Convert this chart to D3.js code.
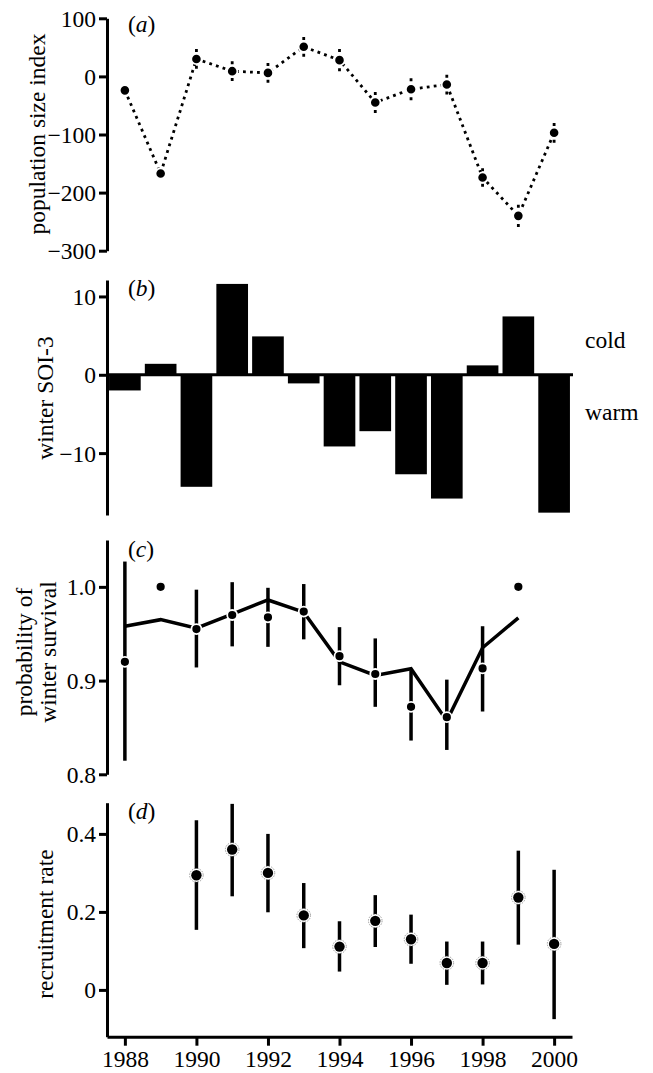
<!DOCTYPE html>
<html>
<head>
<meta charset="utf-8">
<script src="https://cdn.jsdelivr.net/npm/d3@7"></script>
<style>
  html, body { margin: 0; padding: 0; background: #fff; }
  svg text { font-family: "Liberation Serif", "Times New Roman", serif; fill: #000; }
</style>
</head>
<body>
<svg id="chart" width="653" height="1073"></svg>
<script>
// ---------- data ----------
const years = [1988, 1989, 1990, 1991, 1992, 1993, 1994, 1995, 1996, 1997, 1998, 1999, 2000];
const popIndex = [-24, -167, 30, 9, 6, 51, 28, -45, -22, -14, -174, -240, -97];
const popErr   = [8, 8, 17, 17, 17, 17, 19, 18, 19, 17, 16, 19, 17];

const soi = [-2.0, 1.4, -14.3, 11.6, 4.9, -1.1, -9.15, -7.2, -12.7, -15.8, 1.2, 7.45, -17.6];

const survYears = [1988, 1989, 1990, 1991, 1992, 1993, 1994, 1995, 1996, 1997, 1998, 1999];
const survObs   = [0.920, 1.000, 0.955, 0.970, 0.9675, 0.9736, 0.926, 0.907, 0.872, 0.861, 0.913, 1.000];
const survLo    = [0.8145, null, 0.914, 0.9365, 0.936, 0.944, 0.895, 0.872, 0.836, 0.826, 0.867, null];
const survHi    = [1.027, null, 0.997, 1.005, 0.999, 1.003, 0.957, 0.945, 0.911, 0.901, 0.958, null];
const survModel = [0.958, 0.965, 0.956, 0.971, 0.986, 0.973, 0.920, 0.9055, 0.9126, 0.857, 0.935, 0.967];

const recYears = [1990, 1991, 1992, 1993, 1994, 1995, 1996, 1997, 1998, 1999, 2000];
const rec   = [0.294, 0.360, 0.300, 0.191, 0.111, 0.177, 0.130, 0.069, 0.069, 0.237, 0.118];
const recLo = [0.154, 0.240, 0.199, 0.107, 0.047, 0.110, 0.067, 0.013, 0.014, 0.116, -0.075];
const recHi = [0.435, 0.477, 0.400, 0.274, 0.176, 0.243, 0.193, 0.124, 0.124, 0.357, 0.308];

const xTicks = [1988, 1990, 1992, 1994, 1996, 1998, 2000];
const ticksA = [100, 0, -100, -200, -300];
const ticksB = [10, 0, -10];
const ticksC = [0.8, 0.9, 1.0];
const ticksD = [0, 0.2, 0.4];

// ---------- layout ----------
const svg = d3.select("#chart");
const FS = 23.5;
const AX = 107;
const x = d3.scaleLinear().domain([1987.5, 2000.5]).range([AX, 572]);

const yA = d3.scaleLinear().domain([-300, 100]).range([250.7, 18.3]);
const yB = d3.scaleLinear().domain([-17.9, 12.1]).range([515, 280]);
const yC = d3.scaleLinear().domain([0.8, 1.05]).range([774.3, 540]);
const yD = d3.scaleLinear().domain([-0.12, 0.48]).range([1036.7, 802.7]);

function yAxis(scale, ticks, fmt) {
  const g = svg.append("g").attr("transform", `translate(${AX},0)`)
    .call(d3.axisLeft(scale).tickValues(ticks).tickFormat(fmt).tickSize(8).tickSizeOuter(0).tickPadding(3));
  g.select(".domain").attr("stroke", "#000").attr("stroke-width", 3);
  g.selectAll(".tick line").attr("stroke", "#000").attr("stroke-width", 3);
  g.selectAll(".tick text").attr("font-size", FS).attr("font-family", "Liberation Serif").attr("dy", "0.34em");
  return g;
}
function yTitle(lines, cy, baselines) {
  lines.forEach((t, i) => {
    svg.append("text")
      .attr("transform", `translate(${baselines[i]},${cy}) rotate(-90)`)
      .attr("text-anchor", "middle")
      .attr("font-size", FS)
      .text(t);
  });
}
function panelLabel(letter, baseline) {
  const t = svg.append("text").attr("x", 128).attr("y", baseline).attr("font-size", FS);
  t.append("tspan").text("(");
  t.append("tspan").attr("font-style", "italic").text(letter);
  t.append("tspan").text(")");
}

// ---------- panel (a) ----------
yAxis(yA, ticksA, d3.format("d"));
yTitle(["population size index"], 134, [45]);
panelLabel("a", 32);

const popData = years.map((y, i) => ({ y, v: popIndex[i], e: popErr[i] }));
svg.append("path")
  .datum(popData)
  .attr("fill", "none").attr("stroke", "#000").attr("stroke-width", 2.8)
  .attr("stroke-dasharray", "2.8,4.2")
  .attr("d", d3.line().x(d => x(d.y)).y(d => yA(d.v)));
const errA = svg.append("g");
popData.forEach(d => {
  [d.v + d.e, d.v - d.e].forEach(end => {
    errA.append("line")
      .attr("x1", x(d.y)).attr("x2", x(d.y))
      .attr("y1", yA(end)).attr("y2", yA(d.v))
      .attr("stroke", "#000").attr("stroke-width", 2.8)
      .attr("stroke-dasharray", "3,4");
  });
});
svg.append("g").selectAll("circle").data(popData).join("circle")
  .attr("cx", d => x(d.y)).attr("cy", d => yA(d.v)).attr("r", 5.2)
  .attr("fill", "#000").attr("stroke", "#fff").attr("stroke-width", 1.8);

// ---------- panel (b) ----------
yAxis(yB, ticksB, d3.format("d"));
yTitle(["winter SOI-3"], 398, [53]);
panelLabel("b", 296);

const barW = (x(1) - x(0)) * 0.885;
const soiData = years.map((y, i) => ({ y, v: soi[i] }));
svg.append("g").selectAll("rect").data(soiData).join("rect")
  .attr("x", d => x(d.y) - barW / 2)
  .attr("width", barW)
  .attr("y", d => yB(Math.max(0, d.v)))
  .attr("height", d => Math.abs(yB(d.v) - yB(0)))
  .attr("fill", "#000");
svg.append("line")
  .attr("x1", AX).attr("x2", 573)
  .attr("y1", yB(0)).attr("y2", yB(0))
  .attr("stroke", "#000").attr("stroke-width", 3);
svg.append("text").attr("x", 585).attr("y", 348).attr("font-size", FS).text("cold");
svg.append("text").attr("x", 585).attr("y", 420).attr("font-size", FS).text("warm");

// ---------- panel (c) ----------
yAxis(yC, ticksC, d3.format(".1f"));
yTitle(["probability of", "winter survival"], 652, [32, 55.5]);
panelLabel("c", 557);

const survData = survYears.map((y, i) => ({ y, v: survObs[i], lo: survLo[i], hi: survHi[i], m: survModel[i] }));
svg.append("g").selectAll("line").data(survData.filter(d => d.lo !== null)).join("line")
  .attr("x1", d => x(d.y)).attr("x2", d => x(d.y))
  .attr("y1", d => yC(d.lo)).attr("y2", d => yC(d.hi))
  .attr("stroke", "#000").attr("stroke-width", 3.5);
svg.append("path")
  .datum(survData)
  .attr("fill", "none").attr("stroke", "#000").attr("stroke-width", 3.5)
  .attr("stroke-linejoin", "miter")
  .attr("d", d3.line().x(d => x(d.y)).y(d => yC(d.m)));
svg.append("g").selectAll("circle").data(survData).join("circle")
  .attr("cx", d => x(d.y)).attr("cy", d => yC(d.v)).attr("r", 5)
  .attr("fill", "#000").attr("stroke", "#fff").attr("stroke-width", 1.8);

// ---------- panel (d) ----------
yAxis(yD, ticksD, d => d === 0 ? "0" : d3.format(".1f")(d));
yTitle(["recruitment rate"], 924, [53]);
panelLabel("d", 819);

const gx = svg.append("g").attr("transform", `translate(0,${yD.range()[0]})`)
  .call(d3.axisBottom(x).tickValues(xTicks).tickFormat(d3.format("d")).tickSize(9).tickSizeOuter(0).tickPadding(3));
gx.select(".domain").attr("stroke", "#000").attr("stroke-width", 3);
gx.selectAll(".tick line").attr("stroke", "#000").attr("stroke-width", 3);
gx.selectAll(".tick text").attr("font-size", FS).attr("font-family", "Liberation Serif")
  .attr("y", 30).attr("dy", 0);

const recData = recYears.map((y, i) => ({ y, v: rec[i], lo: recLo[i], hi: recHi[i] }));
svg.append("g").selectAll("line").data(recData).join("line")
  .attr("x1", d => x(d.y)).attr("x2", d => x(d.y))
  .attr("y1", d => yD(d.lo)).attr("y2", d => yD(d.hi))
  .attr("stroke", "#000").attr("stroke-width", 3.5);
const recPts = svg.append("g").selectAll("g").data(recData).join("g")
  .attr("transform", d => `translate(${x(d.y)},${yD(d.v)})`);
recPts.append("circle").attr("r", 6.8).attr("fill", "#fff")
  .attr("stroke", "#777").attr("stroke-width", 0.7).attr("stroke-dasharray", "1.5,1.2");
recPts.append("circle").attr("r", 5.2).attr("fill", "#000");
</script>
</body>
</html>
